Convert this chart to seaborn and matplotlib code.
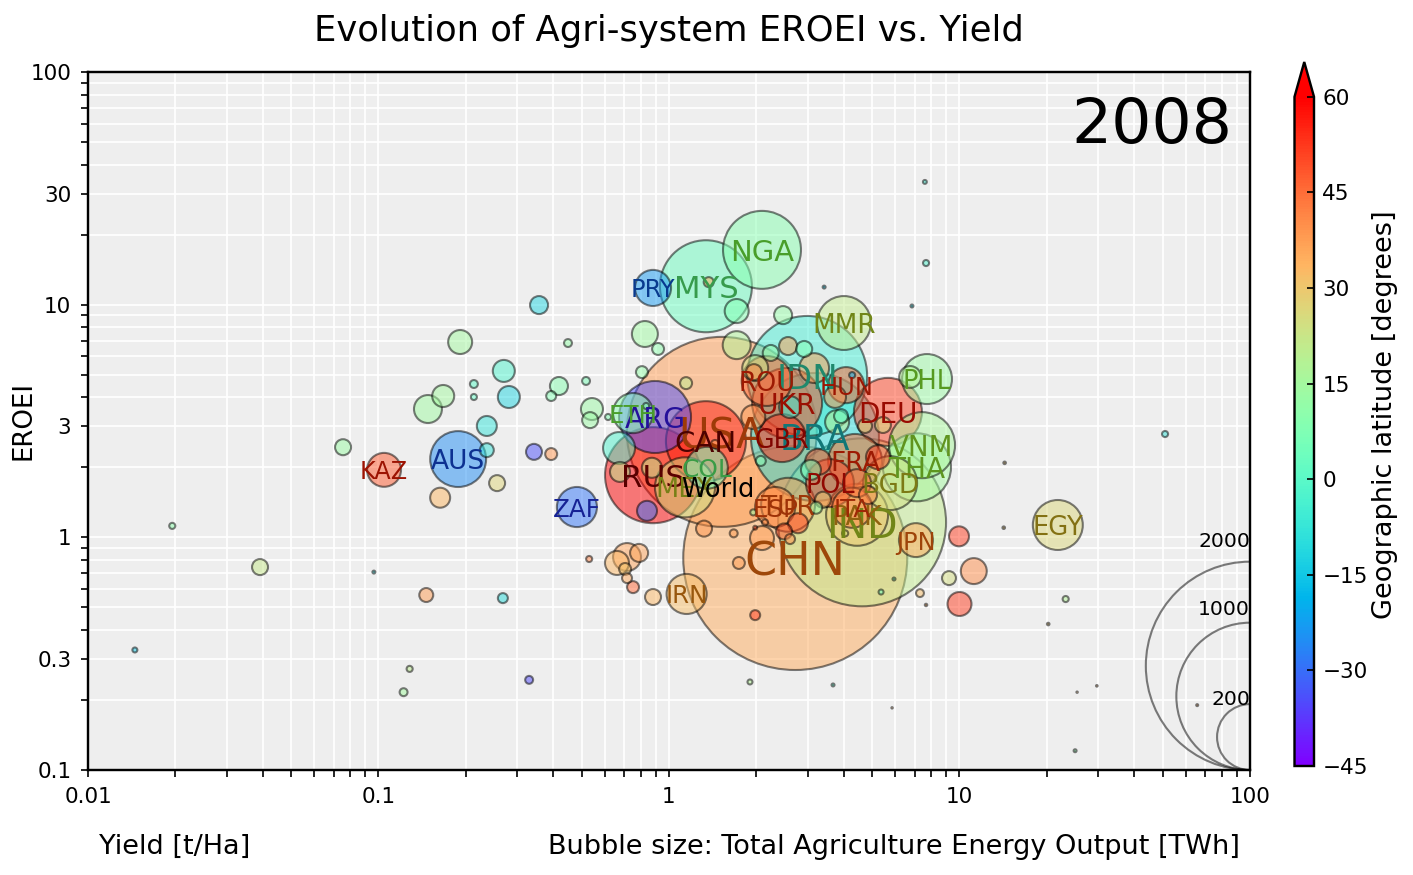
import numpy as np
import pandas as pd
import matplotlib
matplotlib.use("Agg")
import matplotlib.pyplot as plt
from matplotlib.colors import Normalize
from matplotlib.cm import ScalarMappable
from matplotlib.ticker import LogLocator, NullFormatter, FuncFormatter
import seaborn as sns

# labelled countries first, then the rest ("" = no label)
names = ["NGA", "MYS", "PRY", "MMR", "IDN", "PHL", "ROU", "HUN", "UKR", "DEU", "ARG", "ETH",
         "USA", "CAN", "GBR", "BRA", "VNM", "THA", "FRA", "RUS", "MEX", "COL", "BGD", "POL",
         "ESP", "TUR", "ITA", "PAK", "IND", "CHN", "JPN", "IRN", "EGY", "AUS", "KAZ", "ZAF"] + [""] * 112

yields = [2.09, 1.34, .881, 4.0, 2.99, 7.73, 2.17, 4.07, 2.55, 5.67, .895, .752,
          1.52, 1.34, 2.45, 3.18, 7.43, 7.14, 4.37, .881, 1.135, 1.35, 5.77, 3.58,
          2.32, 2.57, 4.27, 4.44, 4.62, 2.72, 7.08, 1.15, 21.8, .188, .1045, .482,
          .191, .270, .213, .213, .167, .148, .281, .236, .236, .0755, .163, .256,
          .343, .393, .418, .393, .518, .449, .543, .535, .617, .673, .678, .357,
          .826, .917, .807, 1.145, 1.71, 1.71, 2.47, 1.37, 2.57, 2.24, 2.92, 3.16,
          1.98, 1.96, 4.27, 6.76, 3.73, 3.91, 3.79, 4.73, 5.45, 1.95, 2.61, .834,
          2.07, 3.08, 3.26, 5.24, 4.44, 4.84, 3.39, 3.21, 1.95, 2.14, 1.98, 2.49,
          2.78, 2.61, 2.09, 1.32, 1.67, 1.74, .717, .789, .662, .706, .717, .752,
          .881, 1.98, .84, .873, 1.44, 4.04, 9.96, 11.2, 9.2, 10.0, 7.31, 7.67,
          5.37, 5.95, 23.2, 20.2, 14.2, 14.3, 51, 7.6, 7.67, 6.86, 3.42, .0391,
          .0195, .0964, .0145, .146, .268, .128, .122, .33, 1.90, 3.67, 5.86, 25.4,
          29.7, 65.8, 25, .531]

eroei = [17.2, 12.0, 11.8, 8.34, 4.94, 4.79, 4.70, 4.51, 3.78, 3.46, 3.29, 3.42,
         2.84, 2.59, 2.67, 2.70, 2.49, 2.00, 2.13, 1.85, 1.64, 1.99, 1.71, 1.71,
         1.35, 1.38, 1.34, 1.25, 1.16, .815, .973, .571, 1.13, 2.17, 1.95, 1.35,
         6.91, 5.19, 4.56, 4.01, 4.05, 3.56, 4.01, 3.01, 2.37, 2.44, 1.48, 1.71,
         2.33, 2.28, 4.47, 4.05, 4.70, 6.84, 3.56, 3.19, 3.29, 2.42, 1.91, 9.96,
         7.48, 6.45, 5.13, 4.60, 6.70, 9.39, 9.02, 12.5, 6.64, 6.20, 6.45, 5.34,
         5.34, 5.13, 4.98, 4.89, 4.01, 3.32, 3.13, 3.01, 3.04, 3.29, 3.63, 3.67,
         2.13, 1.95, 2.11, 2.21, 1.71, 1.52, 1.45, 1.34, 1.28, 1.16, 1.10, 1.06,
         1.15, .983, .993, 1.09, 1.04, .776, .823, .857, .776, .731, .668, .611,
         .554, .463, 1.30, 1.99, 2.52, 1.04, 1.01, .716, .668, .517, .576, .512,
         .582, .662, .543, .424, 1.10, 2.09, 2.78, 33.7, 15.1, 9.87, 11.9, .745,
         1.12, .709, .328, .565, .548, .272, .216, .244, .239, .232, .185, .216,
         .23, .19, .121, .807]

output_twh = [280, 390, 60, 134, 663, 115, 115, 60, 226, 213, 239, 74,
              1663, 295, 106, 755, 201, 213, 134, 425, 166, 81, 134, 106,
              74, 134, 74, 177, 1300, 2312, 53, 74, 115, 144, 53, 74,
              26.5, 22.3, 2.9, 1.7, 22.3, 36, 22.3, 18.4, 9, 11.8, 18.4, 11.8,
              11.8, 6.6, 15, 4.6, 2.9, 2.9, 22.3, 11.8, 1.7, 47, 18.4, 15,
              31, 6.6, 6.6, 6.6, 36, 26.5, 15, 4.6, 15, 11.8, 11.8, 41,
              31, 11.8, 1.7, 22, 22, 9, 26.5, 9, 11.8, 26.5, 22, 1.7,
              4.6, 18.4, 31, 26.5, 36, 15, 11.8, 6.6, 1.7, 1.7, .7, 11.8,
              18.4, 4.6, 26.5, 11.8, 2.9, 6.6, 36, 15, 26.5, 6.6, 4.6, 6.6,
              11.8, 4.6, 18.4, 18.4, 2.9, 1.7, 18.4, 31, 9, 26.5, 2.9, .27,
              1.15, .4, 1.7, .3, .3, .3, 1.7, .7, 1.7, .4, .4, 11.8,
              1.7, .4, 1.15, 9, 4.6, 1.7, 2.9, 2.9, 1.15, .4, .09, .09,
              .12, .18, .4, 1.7]

latitude = [9, 3, -23, 21, -5, 13, 46, 47, 49, 51, -34, 9,
            38, 56, 54, -10, 16, 15, 46, 60, 23, 4, 24, 52,
            40, 39, 42, 30, 21, 35, 36, 32, 26, -25, 48, -29,
            15, -3, 0, 1, 15, 14, -12, -8, -8, 13, 33, 27,
            -34, 39, 9, 8, 6, 12, 13, 13, 8, -3, 20, -12,
            14, 10, 12, 20, 17, 8, 12, 35, 38, 12, 8, 38,
            22, 42, -20, 18, 40, 2, 20, 27, 25, 39, -5, 9,
            8, 5, 50, 52, 45, 42, 30, 12, 12, 40, 50, 50,
            50, 40, 38, 39, 38, 38, 37, 37, 33, 31, 36, 46,
            33, 52, -30, 20, 35, 25, 52, 40, 25, 52, 32, 35,
            4, 0, 18, 30, 30, 30, -8, -5, -3, -12, -15, 22,
            10, -10, -15, 38, -10, 20, 15, -35, 18, 0, 35, 35,
            35, 35, 10, 42]

world_yield = 1.47
world_eroei = 1.64

legend_sizes = [2000, 1000, 200]

y_ticks = [0.1, 0.3, 1, 3, 10, 30, 100]
x_ticks = [0.01, 0.1, 1, 10, 100]
cbar_ticks = list(range(-45, 61, 15))

W, H = 1414, 875
fig = plt.figure(figsize=(W / 150, H / 150), dpi=150)
ax = fig.add_axes([88 / W, (H - 770) / H, (1250 - 88) / W, (770 - 72) / H])
ax.set_facecolor("#eeeeee")
ax.set_axisbelow(True)

df = pd.DataFrame({"name": names, "yield": yields, "eroei": eroei,
                   "output": output_twh, "lat": latitude})
df = df.sort_values("output", ascending=False)

norm = Normalize(-45, 60)
cmap = plt.get_cmap("rainbow")

# s = 5 * TWh
sns.scatterplot(data=df, x="yield", y="eroei", hue="lat", palette="rainbow", hue_norm=norm,
                size="output", sizes=(0, 12500), size_norm=(0, 2500),
                alpha=0.5, edgecolor="k", linewidth=1, legend=False, ax=ax)

ax.set_xscale("log")
ax.set_yscale("log")
ax.set_xlim(0.01, 100)
ax.set_ylim(0.1, 100)
ax.set_xticks(x_ticks)
ax.set_yticks(y_ticks)
plain = FuncFormatter(lambda v, p: f"{v:g}")
ax.xaxis.set_major_formatter(plain)
ax.yaxis.set_major_formatter(plain)
ax.xaxis.set_minor_locator(LogLocator(10, subs=np.arange(2, 10), numticks=12))
ax.yaxis.set_minor_locator(LogLocator(10, subs=np.arange(2, 10), numticks=12))
ax.xaxis.set_minor_formatter(NullFormatter())
ax.yaxis.set_minor_formatter(NullFormatter())
ax.grid(True, which="both", color="white", lw=0.8)
ax.tick_params(which="both", labelsize=10.3, length=3.5, width=0.8, pad=4.5)
ax.set_xlabel("")
ax.set_ylabel("EROEI", fontsize=12.5)
ax.yaxis.set_label_coords(-0.0447, 0.5)
for sp in ax.spines.values():
    sp.set_linewidth(1.15)

# country codes, darker than their bubble, nearly black towards the north
for _, row in df[df["name"] != ""].iterrows():
    shade = np.interp(row["lat"], [45, 51, 54, 56, 60], [0.62, 0.6, 0.5, 0.3, 0.35])
    blue = np.interp(row["lat"], [0, 10], [1, 0.5])
    c = cmap(norm(row["lat"]))
    rgb = (c[0] ** 1.2 * shade, c[1] ** 2 * shade, c[2] ** 2 * shade * blue)
    ax.text(row["yield"], row["eroei"], row["name"], color=rgb,
            fontsize=9.6 + 0.26 * np.sqrt(row["output"]), ha="center", va="center_baseline")
ax.text(world_yield, world_eroei, "World", color="k", fontsize=12.3, ha="center", va="center_baseline")

# bubble size key, sitting on the bottom right corner
for v in legend_sizes:
    r_pt = np.sqrt(5 * v) / 2
    y_key = 0.1 * 10 ** (r_pt * 150 / 72 / ((770 - 72) / 3))
    ax.scatter([100], [y_key], s=5 * v, facecolor="none", edgecolor="k", alpha=0.5, linewidth=1)
    ax.annotate(str(v), xy=(100, y_key), xytext=(0, r_pt * 1.21), textcoords="offset points",
                ha="right", va="center_baseline", fontsize=9.8)

ax.text(0.985, 0.965, "2008", transform=ax.transAxes, ha="right", va="top", fontsize=30.3)

fig.text(669 / W, 1 - 31 / H, "Evolution of Agri-system EROEI vs. Yield", ha="center", va="center", fontsize=17)
fig.text(99 / W, 1 - 847 / H, "Yield [t/Ha]", ha="left", va="center", fontsize=13)
fig.text(1240 / W, 1 - 847 / H, "Bubble size: Total Agriculture Energy Output [TWh]", ha="right", va="center", fontsize=13)

cax = fig.add_axes([1294.5 / W, (H - 766) / H, 19.5 / W, (766 - 62) / H])
cb = fig.colorbar(ScalarMappable(norm=norm, cmap=cmap), cax=cax, extend="max", extendfrac=0.052)
cb.set_ticks(cbar_ticks)
cb.ax.tick_params(labelsize=10.3, length=3.5, width=0.8, direction="in", pad=4)
cb.outline.set_linewidth(1.15)
cb.set_label("Geographic latitude [degrees]", fontsize=13)
cb.ax.yaxis.set_label_coords(3.95, 0.525)

fig.savefig("out.png", dpi=150)
